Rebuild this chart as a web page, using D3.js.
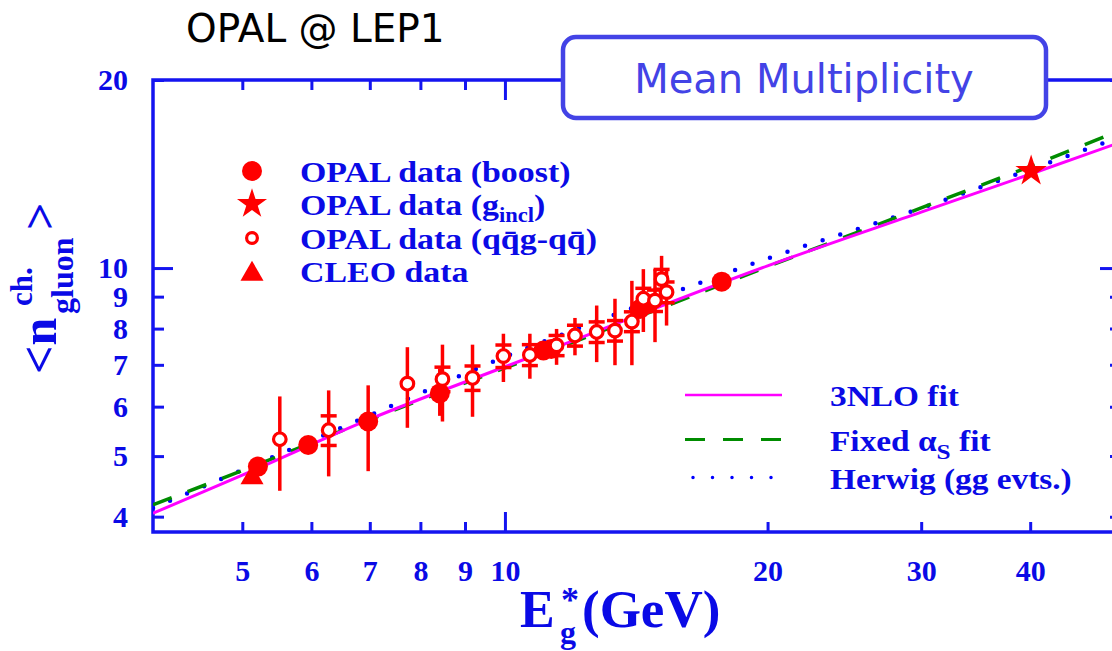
<!DOCTYPE html>
<html>
<head>
<meta charset="utf-8">
<script src="https://cdn.jsdelivr.net/npm/d3@7"></script>
<style>
  body { margin: 0; padding: 0; background: #fff; }
</style>
</head>
<body>
<div id="chart"></div>
<script>
const width = 1112, height = 651;

// OPAL data (boost) - filled circles
const boostE  = [5.21, 5.95, 6.97, 8.42, 11.07, 11.3, 14.28, 14.6, 17.72];
const boostN  = [4.81, 5.21, 5.68, 6.30, 7.38, 7.42, 8.60, 8.76, 9.51];
const boostLo = [4.72, 5.13, 4.73, 5.80, 7.28, 7.32, 8.35, 8.50, 9.35];
const boostHi = [4.90, 5.30, 6.49, 6.90, 7.48, 7.52, 8.85, 9.05, 9.68];

// OPAL data (qqg-qq) - open circles
const openE  = [5.52, 6.28, 7.73, 8.48, 9.18, 9.96, 10.68, 11.46, 12.03, 12.74, 13.37, 13.98, 14.41, 14.86, 15.12, 15.32];
const openN  = [5.32, 5.50, 6.53, 6.64, 6.67, 7.23, 7.26, 7.52, 7.80, 7.90, 7.94, 8.21, 8.93, 8.87, 9.60, 9.15];
const openLo = [4.40, 4.64, 5.55, 5.68, 5.78, 6.57, 6.65, 7.00, 7.25, 7.07, 6.99, 6.99, 7.90, 7.61, 9.03, 8.09];
const openHi = [6.23, 6.37, 7.47, 7.54, 7.54, 7.85, 7.85, 7.99, 8.32, 8.71, 8.93, 9.54, 9.96, 9.96, 10.46, 9.96];
const openStat = [0, 0.30, 0, 0.30, 0.30, 0.30, 0.28, 0.28, 0.30, 0.30, 0.30, 0.30, 0.35, 0.35, 0.35, 0.35];

// OPAL data (g_incl) - star, CLEO - triangle
const inclE = [40.1], inclN = [14.3];
const cleoE = [5.13], cleoN = [4.62];

// fit curves
const fitE     = [3.95, 5, 7, 10, 12, 15, 20, 30, 40, 50.7];
const fit3NLO  = [4.05, 4.66, 5.73, 6.95, 7.66, 8.66, 10.08, 12.29, 14.13, 15.89];
const fitFixed = [4.18, 4.74, 5.72, 6.92, 7.62, 8.60, 10.05, 12.48, 14.55, 16.6];
const herwig   = [4.13, 4.75, 5.81, 7.21, 7.96, 8.95, 10.36, 12.47, 14.38, 16.2];

const xTicks = [5, 6, 7, 8, 9, 10, 20, 30, 40, 50];
const xLabels = [5, 6, 7, 8, 9, 10, 20, 30, 40];
const yTicks = [4, 5, 6, 7, 8, 9, 10, 20];

const textBlue = "#0a0ae6", frameBlue = "#1414f0", red = "#ff0000";
const serif = "'Liberation Serif', 'Times New Roman', serif";

const svg = d3.select("#chart").append("svg")
    .attr("width", width)
    .attr("height", height)
    .style("background", "#fff");

const x = d3.scaleLog().domain([3.95, 50.7]).range([153, 1120]);
const y = d3.scaleLog().domain([3.78, 20]).range([532, 80]);
const [x0, x1] = x.range(), [y0, y1] = y.range();

// clip to plot area
svg.append("clipPath").attr("id", "plot")
  .append("rect").attr("x", x0).attr("y", y1).attr("width", x1 - x0).attr("height", y0 - y1);

// axes (ticks pointing inwards)
function styleAxis(g) {
  g.select(".domain").remove();
  g.selectAll(".tick line").attr("stroke", frameBlue).attr("stroke-width", 3);
  g.selectAll(".tick text").attr("fill", textBlue)
    .style("font-family", serif).style("font-weight", "bold").style("font-size", "30px");
}
const longTick = d => d === 10;

svg.append("g").attr("transform", `translate(0,${y0})`)
  .call(d3.axisBottom(x).tickValues(xTicks).tickSize(-10).tickPadding(28)
    .tickFormat(d => xLabels.includes(d) ? d : ""))
  .call(styleAxis)
  .call(g => g.selectAll(".tick line").attr("y2", d => longTick(d) ? -20 : -10));

svg.append("g").attr("transform", `translate(0,${y1})`)
  .call(d3.axisTop(x).tickValues(xTicks).tickSize(-10).tickFormat(""))
  .call(styleAxis)
  .call(g => g.selectAll(".tick line").attr("y2", d => longTick(d) ? 20 : 10));

svg.append("g").attr("transform", `translate(${x0},0)`)
  .call(d3.axisLeft(y).tickValues(yTicks).tickSize(-11).tickPadding(25).tickFormat(d3.format("d")))
  .call(styleAxis)
  .call(g => g.selectAll(".tick line").attr("x2", d => longTick(d) ? 20 : 11));

svg.append("g").attr("transform", `translate(${x1},0)`)
  .call(d3.axisRight(y).tickValues(yTicks).tickSize(-10).tickFormat(""))
  .call(styleAxis)
  .call(g => g.selectAll(".tick line").attr("x2", d => longTick(d) ? -20 : -10));

// frame
svg.append("rect")
  .attr("x", x0).attr("y", y1).attr("width", x1 - x0).attr("height", y0 - y1)
  .attr("fill", "none").attr("stroke", frameBlue).attr("stroke-width", 3.5);

// fit curves
const line = d3.line().x(d => x(d[0])).y(d => y(d[1])).curve(d3.curveMonotoneX);
const curves = svg.append("g").attr("clip-path", "url(#plot)");
curves.append("path").datum(d3.zip(fitE, herwig))
  .attr("d", line).attr("fill", "none").attr("stroke", "#0000ff")
  .attr("stroke-width", 4.5).attr("stroke-linecap", "round").attr("stroke-dasharray", "0,18.5");
curves.append("path").datum(d3.zip(fitE, fitFixed))
  .attr("d", line).attr("fill", "none").attr("stroke", "#008c00")
  .attr("stroke-width", 3.5).attr("stroke-dasharray", "20,17");
curves.append("path").datum(d3.zip(fitE, fit3NLO))
  .attr("d", line).attr("fill", "none").attr("stroke", "#ff00ff")
  .attr("stroke-width", 3);

// data points
const pts = svg.append("g");

function errBar(e, lo, hi) {
  pts.append("line").attr("x1", x(e)).attr("x2", x(e)).attr("y1", y(lo)).attr("y2", y(hi))
    .attr("stroke", red).attr("stroke-width", 3.5);
}

function drawMarker(g, type, cx, cy, s) {
  if (type === "filled") {
    g.append("circle").attr("cx", cx).attr("cy", cy).attr("r", 10 * s).attr("fill", red);
  } else if (type === "open") {
    g.append("circle").attr("cx", cx).attr("cy", cy).attr("r", 6 * s)
      .attr("fill", "#fff").attr("stroke", red).attr("stroke-width", 3.2);
  } else if (type === "star") {
    g.append("path").attr("d", d3.symbol(d3.symbolStar, 280 * s * s)())
      .attr("transform", `translate(${cx},${cy})`).attr("fill", red);
  } else if (type === "triangle") {
    g.append("path").attr("d", d3.symbol(d3.symbolTriangle, 230 * s * s)())
      .attr("transform", `translate(${cx},${cy})`).attr("fill", red);
  }
}

cleoE.forEach((e, i) => drawMarker(pts, "triangle", x(e), y(cleoN[i]), 1));

openE.forEach((e, i) => {
  errBar(e, openLo[i], openHi[i]);
  if (openStat[i] > 0) {
    [openN[i] - openStat[i], openN[i] + openStat[i]].forEach(v => {
      pts.append("line").attr("x1", x(e) - 8).attr("x2", x(e) + 8).attr("y1", y(v)).attr("y2", y(v))
        .attr("stroke", red).attr("stroke-width", 3.5);
    });
  }
});
boostE.forEach((e, i) => {
  errBar(e, boostLo[i], boostHi[i]);
  drawMarker(pts, "filled", x(e), y(boostN[i]), 1);
});
openE.forEach((e, i) => drawMarker(pts, "open", x(e), y(openN[i]), 1.05));
inclE.forEach((e, i) => drawMarker(pts, "star", x(e), y(inclN[i]), 1.05));

// marker legend
const legend = svg.append("g");
const legRows = [
  { type: "filled", y: 171 },
  { type: "star", y: 204 },
  { type: "open", y: 238 },
  { type: "triangle", y: 274 }
];
legRows.forEach(r => drawMarker(legend, r.type, 252, r.y, r.type === "open" ? 0.9 : 1));

// serif labels in the reference are a little wider than Times, so stretch them
function wideText(g, tx, ty, size, sx) {
  return g.append("text").attr("transform", `translate(${tx},${ty}) scale(${sx},1)`)
    .attr("fill", textBlue)
    .style("font-family", serif).style("font-weight", "bold").style("font-size", size + "px");
}
wideText(legend, 300, 182, 30, 1.13).text("OPAL data (boost)");
const t2 = wideText(legend, 300, 215, 30, 1.13);
t2.append("tspan").text("OPAL data (g");
t2.append("tspan").attr("dy", 7).style("font-size", "20px").text("incl");
t2.append("tspan").attr("dy", -7).text(")");
wideText(legend, 300, 249, 30, 1.13).text("OPAL data (qq\u0304g-qq\u0304)");
wideText(legend, 300, 282, 30, 1.13).text("CLEO data");

// line legend
const lleg = svg.append("g");
lleg.append("line").attr("x1", 685).attr("x2", 782).attr("y1", 395).attr("y2", 395)
  .attr("stroke", "#ff00ff").attr("stroke-width", 2.5);
lleg.append("line").attr("x1", 685).attr("x2", 782).attr("y1", 439.5).attr("y2", 439.5)
  .attr("stroke", "#008c00").attr("stroke-width", 3).attr("stroke-dasharray", "20,18");
lleg.append("line").attr("x1", 693).attr("x2", 775).attr("y1", 477.5).attr("y2", 477.5)
  .attr("stroke", "#0000ff").attr("stroke-width", 3.5).attr("stroke-linecap", "round")
  .attr("stroke-dasharray", "0,19.5");

wideText(lleg, 830, 406, 29, 1.15).text("3NLO fit");
const f2 = wideText(lleg, 830, 451, 29, 1.15);
f2.append("tspan").text("Fixed \u03b1");
f2.append("tspan").attr("dy", 8).style("font-size", "22px").text("S");
f2.append("tspan").attr("dy", -8).text(" fit");
wideText(lleg, 830, 489, 29, 1.15).text("Herwig (gg evts.)");

// y-axis title
const yt = svg.append("g").attr("transform", "translate(56,374) rotate(-90)")
  .attr("fill", textBlue).style("font-family", serif).style("font-weight", "bold");
yt.append("text").attr("x", 0).attr("y", 0).style("font-size", "50px").text("<n");
yt.append("text").attr("x", 68).attr("y", -24).style("font-size", "31px").text("ch.");
yt.append("text").attr("x", 60).attr("y", 17).style("font-size", "32px").text("gluon");
yt.append("text").attr("x", 144).attr("y", 0).style("font-size", "48px").text(">");

// x-axis title
const xt = svg.append("g").attr("fill", textBlue).style("font-family", serif).style("font-weight", "bold");
xt.append("text").attr("x", 520).attr("y", 627).style("font-size", "52px").text("E");
xt.append("text").attr("x", 561).attr("y", 612).style("font-size", "36px").text("*");
xt.append("text").attr("x", 560).attr("y", 643).style("font-size", "32px").text("g");
xt.append("text").attr("x", 582).attr("y", 627).style("font-size", "53px").text("(GeV)");

// title box
svg.append("rect").attr("x", 563).attr("y", 37).attr("width", 483).attr("height", 81)
  .attr("rx", 13).attr("fill", "#fff").attr("stroke", "#4343e6").attr("stroke-width", 4.5);
svg.append("text").attr("x", 804).attr("y", 93).attr("text-anchor", "middle")
  .attr("fill", "#4343e6").style("font-family", "'DejaVu Sans', sans-serif")
  .style("font-size", "40px").text("Mean Multiplicity");

svg.append("text").attr("x", 186).attr("y", 42).attr("fill", "#000")
  .style("font-family", "'DejaVu Sans', sans-serif").style("font-size", "39px")
  .text("OPAL @ LEP1");
</script>
</body>
</html>
